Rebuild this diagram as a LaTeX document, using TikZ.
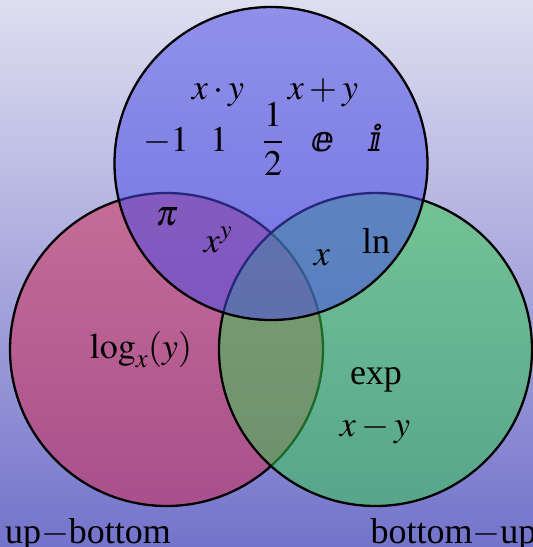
\documentclass[tikz,border=0pt]{standalone}
\usepackage{mathptmx}
\usepackage[no-math]{fontspec}
\setmainfont{Liberation Serif}
\newfontfamily\dsfont{DejaVu Serif}
\definecolor{bgtop}{RGB}{222,222,240}
\definecolor{bgbot}{RGB}{115,115,203}
\definecolor{cred}{RGB}{212,40,82}
\definecolor{cgreen}{RGB}{55,205,80}
\definecolor{cblue}{RGB}{75,75,232}
\begin{document}
\begin{tikzpicture}[x=1pt,y=-1pt,
  lbl/.style={anchor=base, inner sep=0pt, font=\fontsize{36}{40}\selectfont},
  setc/.style={circle, minimum size=313pt, inner sep=0pt, outer sep=0pt,
    fill=#1, fill opacity=0.52, draw=black, draw opacity=1, line width=2.3pt}]
\useasboundingbox (0,0) rectangle (533,547);
\shade[top color=bgtop, bottom color=bgbot] (0,0) rectangle (533,547);
\node[setc=cred] (L) at (166.5,349.5) {};
\node[setc=cgreen] (R) at (375.5,349.5) {};
\node[setc=cblue] (T) at (271,163.5) {};
\node[lbl] (xy) at (218,99) {$x\cdot y$};
\node[lbl] (xpy) at (323,99) {$x+y$};
\node[lbl] (m1) at (166,151) {$-1$};
\node[lbl] (one) at (219,151) {$1$};
\node[lbl, anchor=center] (half) at (273,139) {$\displaystyle\frac{1}{2}$};
\node[lbl] (ee) at (323,151) {\dsfont ⅇ};
\node[lbl] (ii) at (376,151) {\dsfont ⅈ};
\node[lbl] (pi) at (167,225) {$\pi$};
\node[lbl] (xpow) at (218,252) {$x^y$};
\node[lbl] (x) at (322,265) {$x$};
\node[lbl] (ln) at (376,253) {ln};
\node[lbl] (log) at (141,358) {$\log_x(y)$};
\node[lbl] (exp) at (376,384) {exp};
\node[lbl] (xmy) at (375,436) {$x-y$};
\node[lbl] (ub) at (88,543) {up$-$bottom};
\node[lbl] (bu) at (453.5,543) {bottom$-$up};
\end{tikzpicture}
\end{document}
